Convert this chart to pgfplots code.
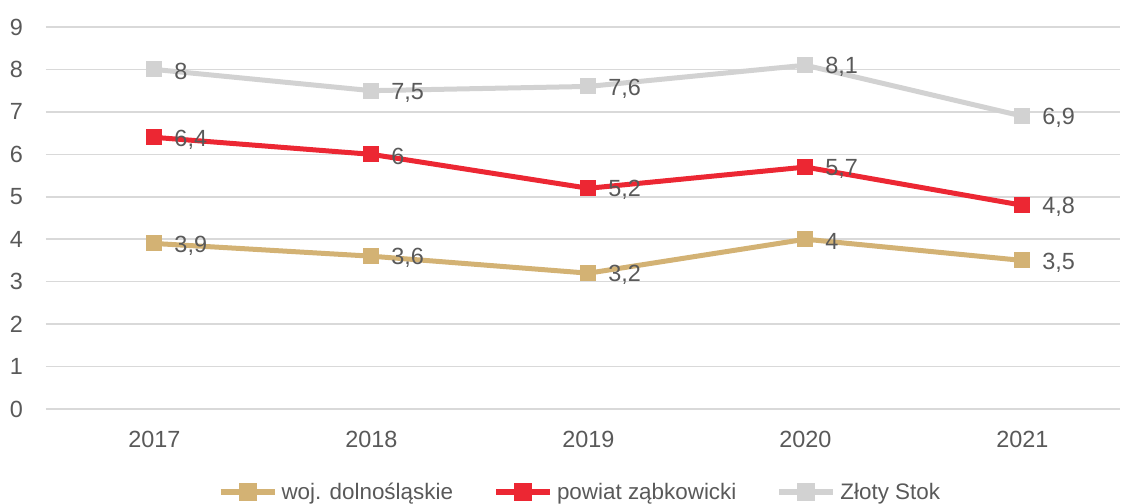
\documentclass[border=0pt]{standalone}
\usepackage{pgfplots}
\pgfplotsset{compat=1.18}
\usepackage{fontspec}
\setmainfont{Liberation Sans}
\definecolor{cgold}{HTML}{D3B274}
\definecolor{cred}{HTML}{EC2733}
\definecolor{cgray}{HTML}{D2D2D2}
\definecolor{ctxt}{HTML}{595959}
\definecolor{cgrid}{HTML}{D9D9D9}
\begin{document}
\begin{tikzpicture}
\path[use as bounding box] (-46bp,-95bp) rectangle (1075bp,409bp);
\begin{axis}[
  at={(0bp,0bp)}, anchor=south west,
  scale only axis,
  width=1074bp, height=382bp,
  xmin=-0.5, xmax=4.45,
  ymin=0, ymax=9,
  xtick={0,1,2,3,4},
  xticklabels={2017,2018,2019,2020,2021},
  ytick={0,1,...,9},
  ymajorgrids,
  grid style={cgrid, line width=1.6bp},
  axis line style={draw=none},
  major tick length=0pt,
  tick label style={font=\fontsize{23.5}{26}\selectfont, text=ctxt},
  xticklabel style={inner sep=0pt, yshift=-22bp},
  yticklabel style={inner sep=0pt, xshift=-23bp},
  /pgf/number format/.cd, use comma, assume math mode=true,
  /pgfplots/.cd,
  clip=false,
  nodes near coords,
  every node near coord/.append style={font=\fontsize{23.5}{26}\selectfont, text=ctxt, anchor=west, inner sep=0pt, xshift=20bp, yshift=-2bp},
  legend columns=3,
  legend style={at={(rel axis cs:0.497,0)}, anchor=center, yshift=-83bp, draw=none, fill=none,
    font=\fontsize{22.5}{26}\selectfont, text=ctxt,
    /tikz/every odd column/.append style={column sep=2bp},
    /tikz/every even column/.append style={column sep=38bp}},
  legend image code/.code={%
    \draw[#1, line width=6bp, mark=none] (0bp,0bp) -- (54bp,0bp);
    \draw[#1, line width=0pt, mark size=8.5bp] plot coordinates {(27bp,0bp)};},
]
\addplot[cgold, line width=5bp, mark=square*, mark size=7.5bp, mark options={solid, line width=0pt}] coordinates {(0,3.9) (1,3.6) (2,3.2) (3,4) (4,3.5)};
\addlegendentry{woj. dolnośląskie}
\addplot[cred, line width=5bp, mark=square*, mark size=7.5bp, mark options={solid, line width=0pt}] coordinates {(0,6.4) (1,6) (2,5.2) (3,5.7) (4,4.8)};
\addlegendentry{powiat ząbkowicki}
\addplot[cgray, line width=5bp, mark=square*, mark size=7.5bp, mark options={solid, line width=0pt}] coordinates {(0,8) (1,7.5) (2,7.6) (3,8.1) (4,6.9)};
\addlegendentry{Złoty Stok}
\end{axis}
\end{tikzpicture}
\end{document}
